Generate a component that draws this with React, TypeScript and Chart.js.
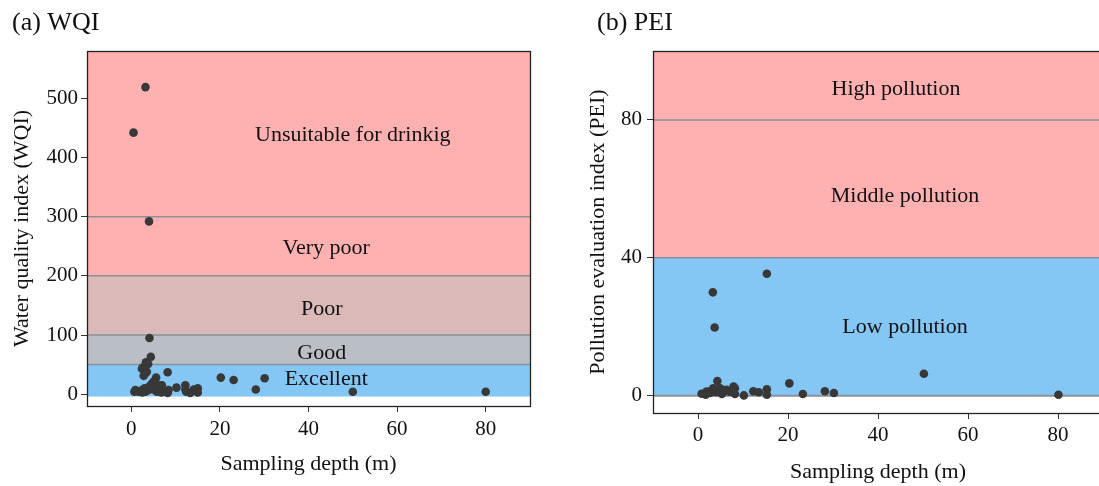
import { useEffect, useRef } from "react";
import { Chart, registerables } from "chart.js";

Chart.register(...registerables);

const FONT = '"Liberation Serif", "Times New Roman", Times, serif';

// ---------- data: panel (a) WQI ----------
const WQI_DEPTH = [
  3.2, 0.5, 4.0, 4.1, 4.4, 3.8, 2.6, 3.3, 2.8, 5.6, 8.2, 6.9, 4.7, 5.0, 0.7, 1.7, 3.2, 3.9,
  5.8, 8.2, 8.2, 10.2, 12.2, 12.4, 13.3, 15.0, 15.0, 20.2, 23.1, 28.1, 30.1, 50.0, 80.0,
  3.3, 2.4, 3.5, 5.0, 6.2, 0.9, 12.2, 14.1, 8.4, 1.5, 2.2, 4.5, 5.5, 6.5, 7.0, 6.0, 3.0, 4.2, 2.5, 6.8,
];
const WQI_VALUE = [
  519, 442, 292, 95, 63, 51, 45, 36, 31, 28, 37, 15, 18, 11, 4, 4, 4, 7,
  4, 4, 2, 11, 15, 4, 2, 10, 3, 28, 24, 8, 27, 4, 4,
  54, 43, 38, 21, 15, 7, 8, 8, 7, 5, 6, 9, 6, 8, 5, 12, 10, 14, 3, 3,
];
const WQI_TICKS = [0, 100, 200, 300, 400, 500];
const WQI_BAND_FROM = [-4, 50, 100, 200, 300];
const WQI_BAND_TO = [50, 100, 200, 300, 580];
const WQI_BAND_COLORS = ["#84C6F4", "#B9BFC5", "#DBB9B9", "#FFB1B1", "#FFB1B1"];
const WQI_LINES = [50, 100, 200, 300];
const WQI_LABELS = ["Excellent", "Good", "Poor", "Very poor", "Unsuitable for drinkig"];
const WQI_LABEL_X = [44, 43, 43, 44, 50];
const WQI_LABEL_Y = [25, 70, 143, 247, 437];

// ---------- data: panel (b) PEI ----------
const PEI_DEPTH = [
  15.3, 3.3, 3.7, 4.3, 0.8, 4.9, 5.6, 6.3, 8.2, 8.2, 10.2, 12.3, 13.5, 15.3, 15.3, 20.3,
  23.3, 28.2, 30.2, 50.2, 80.1, 1.9, 3.4, 2.7, 1.7, 4.0, 3.0, 5.3, 7.0, 7.9,
];
const PEI_VALUE = [
  35.4, 30, 19.8, 4.3, 0.6, 2.2, 1.0, 1.7, 2.2, 0.5, 0.1, 1.3, 1.0, 1.9, 0.3, 3.6,
  0.5, 1.3, 0.8, 6.4, 0.3, 1.2, 2.2, 0.8, 0.3, 1.0, 1.5, 0.5, 1.2, 2.7,
];
const PEI_TICKS = [0, 40, 80];
const PEI_BAND_FROM = [0, 40, 80];
const PEI_BAND_TO = [40, 80, 100];
const PEI_BAND_COLORS = ["#84C6F4", "#FFB1B1", "#FFB1B1"];
const PEI_LINES = [0, 40, 80];
const PEI_LABELS = ["Low pollution", "Middle pollution", "High pollution"];
const PEI_LABEL_X = [46, 46, 44];
const PEI_LABEL_Y = [20, 58, 89];

const X_TICKS = [0, 20, 40, 60, 80];

type Spec = {
  title: string;
  titleX: number;
  yTitle: string;
  xs: number[];
  ys: number[];
  yMin: number;
  yMax: number;
  yTicks: number[];
  bandFrom: number[];
  bandTo: number[];
  bandColors: string[];
  lines: number[];
  labels: string[];
  labelX: number[];
  labelY: number[];
  canvasLeft: number;
  canvasWidth: number;
  yAxisW: number;
  xAxisH: number;
  padRight: number;
  yTitlePad: number;
  xTitlePad: number;
  xTickPad: number;
  yTickPad: number;
  zeroLineWidth: number;
};

const SPECS: Spec[] = [
  {
    title: "(a) WQI",
    titleX: 12,
    yTitle: "Water quality index (WQI)",
    xs: WQI_DEPTH,
    ys: WQI_VALUE,
    yMin: -20,
    yMax: 580,
    yTicks: WQI_TICKS,
    bandFrom: WQI_BAND_FROM,
    bandTo: WQI_BAND_TO,
    bandColors: WQI_BAND_COLORS,
    lines: WQI_LINES,
    labels: WQI_LABELS,
    labelX: WQI_LABEL_X,
    labelY: WQI_LABEL_Y,
    canvasLeft: 0,
    canvasWidth: 560,
    yAxisW: 87,
    xAxisH: 80,
    padRight: 30,
    yTitlePad: 9,
    xTitlePad: 9,
    xTickPad: 5,
    yTickPad: 3,
    zeroLineWidth: 1.5,
  },
  {
    title: "(b) PEI",
    titleX: 37,
    yTitle: "Pollution evaluation index (PEI)",
    xs: PEI_DEPTH,
    ys: PEI_VALUE,
    yMin: -5,
    yMax: 100,
    yTicks: PEI_TICKS,
    bandFrom: PEI_BAND_FROM,
    bandTo: PEI_BAND_TO,
    bandColors: PEI_BAND_COLORS,
    lines: PEI_LINES,
    labels: PEI_LABELS,
    labelX: PEI_LABEL_X,
    labelY: PEI_LABEL_Y,
    canvasLeft: 560,
    canvasWidth: 560,
    yAxisW: 93,
    xAxisH: 73,
    padRight: 17,
    yTitlePad: 25,
    xTitlePad: 1,
    xTickPad: 4,
    yTickPad: 5,
    zeroLineWidth: 2,
  },
];

function makePlugin(p: Spec) {
  return {
    id: "bands",
    beforeDatasetsDraw(chart: any) {
      const { ctx, chartArea: a, scales } = chart;
      const ys = scales.y;
      const xs = scales.x;
      ctx.save();
      ctx.beginPath();
      ctx.rect(a.left, a.top, a.right - a.left, a.bottom - a.top);
      ctx.clip();
      p.bandFrom.forEach((f, i) => {
        const yTop = ys.getPixelForValue(p.bandTo[i]);
        const yBot = ys.getPixelForValue(f);
        ctx.fillStyle = p.bandColors[i];
        ctx.fillRect(a.left, yTop, a.right - a.left, yBot - yTop);
      });
      ctx.strokeStyle = "#8A9199";
      p.lines.forEach((v) => {
        const y = ys.getPixelForValue(v);
        ctx.lineWidth = v === 0 ? p.zeroLineWidth : 1.5;
        ctx.beginPath();
        ctx.moveTo(a.left, y);
        ctx.lineTo(a.right, y);
        ctx.stroke();
      });
      ctx.fillStyle = "#111";
      ctx.font = `22px ${FONT}`;
      ctx.textAlign = "center";
      ctx.textBaseline = "middle";
      p.labels.forEach((t, i) => {
        ctx.fillText(t, xs.getPixelForValue(p.labelX[i]), ys.getPixelForValue(p.labelY[i]));
      });
      ctx.restore();
    },
    afterDraw(chart: any) {
      const { ctx, chartArea: a } = chart;
      ctx.save();
      ctx.strokeStyle = "#222";
      ctx.lineWidth = 1.3;
      ctx.strokeRect(Math.round(a.left) + 0.5, Math.round(a.top) + 0.5, a.right - a.left, a.bottom - a.top);
      ctx.fillStyle = "#111";
      ctx.font = `26px ${FONT}`;
      ctx.textAlign = "left";
      ctx.textBaseline = "middle";
      ctx.fillText(p.title, p.titleX, 23);
      ctx.restore();
    },
  };
}

function Panel({ p }: { p: Spec }) {
  const ref = useRef<HTMLCanvasElement | null>(null);
  useEffect(() => {
    if (!ref.current) return;
    const tickFont = { family: FONT, size: 21 };
    const titleFont = { family: FONT, size: 22 };
    const chart = new Chart(ref.current, {
      type: "scatter",
      data: {
        datasets: [
          {
            data: p.xs.map((x, i) => ({ x, y: p.ys[i] })),
            backgroundColor: "#383838",
            borderColor: "#383838",
            borderWidth: 0,
            pointRadius: 4.3,
            pointHoverRadius: 4.3,
          },
        ],
      },
      options: {
        animation: false,
        responsive: false,
        maintainAspectRatio: false,
        events: [],
        layout: { padding: { left: 0, top: 51, right: p.padRight, bottom: 0 } },
        plugins: { legend: { display: false }, tooltip: { enabled: false } },
        scales: {
          x: {
            type: "linear",
            min: -10,
            max: 90,
            afterBuildTicks: (s: any) => {
              s.ticks = X_TICKS.map((v) => ({ value: v }));
            },
            afterFit: (s: any) => {
              s.height = p.xAxisH;
            },
            grid: { drawOnChartArea: false, drawTicks: true, tickLength: 6, color: "#333", lineWidth: 1 },
            border: { display: false },
            ticks: { font: tickFont, color: "#111", padding: p.xTickPad, maxRotation: 0, autoSkip: false },
            title: {
              display: true,
              text: "Sampling depth (m)",
              font: titleFont,
              color: "#111",
              padding: { top: 0, bottom: p.xTitlePad },
            },
          },
          y: {
            type: "linear",
            min: p.yMin,
            max: p.yMax,
            afterBuildTicks: (s: any) => {
              s.ticks = p.yTicks.map((v) => ({ value: v }));
            },
            afterFit: (s: any) => {
              s.width = p.yAxisW;
            },
            grid: { drawOnChartArea: false, drawTicks: true, tickLength: 6, color: "#333", lineWidth: 1 },
            border: { display: false },
            ticks: { font: tickFont, color: "#111", padding: p.yTickPad, autoSkip: false },
            title: {
              display: true,
              text: p.yTitle,
              font: titleFont,
              color: "#111",
              padding: { top: p.yTitlePad, bottom: 0 },
            },
          },
        },
      } as any,
      plugins: [makePlugin(p)],
    });
    return () => chart.destroy();
  }, [p]);
  return (
    <canvas
      ref={ref}
      width={p.canvasWidth}
      height={486}
      style={{ position: "absolute", left: p.canvasLeft, top: 0, width: p.canvasWidth, height: 486 }}
    />
  );
}

export default function App() {
  return (
    <div
      style={{
        position: "fixed",
        left: 0,
        top: 0,
        width: 1099,
        height: 486,
        overflow: "hidden",
        background: "#fff",
      }}
    >
      {SPECS.map((p, i) => (
        <Panel key={i} p={p} />
      ))}
    </div>
  );
}
